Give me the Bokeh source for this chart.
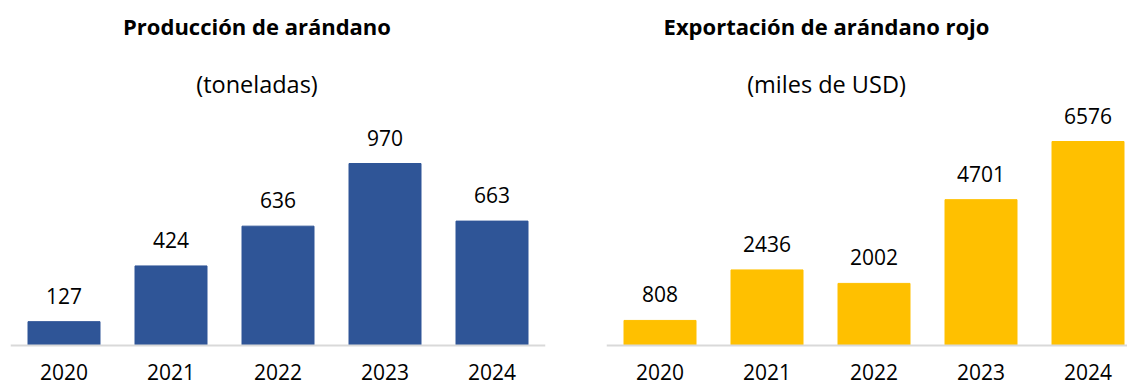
from bokeh.plotting import figure
from bokeh.models import ColumnDataSource, Range1d, FixedTicker, LabelSet, LinearAxis
from bokeh.layouts import row
from bokeh.embed import file_html
from bokeh.resources import INLINE
from bokeh.core.properties import value

years = ["2020", "2021", "2022", "2023", "2024"]
produccion = [127, 424, 636, 970, 663]
exportacion = [808, 2436, 2002, 4701, 6576]
titles = ["Producción de arándano", "Exportación de arándano rojo"]
subtitles = ["(toneladas)", "(miles de USD)"]
colors = ["#2F5597", "#FFC000"]

FONT = "Open Sans"
H = 386
BASE = 345          # baseline pixel from top of figure
PX_PER_CAT = 107.0


def panel(vals, color, title, subtitle, width, border_left, border_right,
          px_per_unit, title_x):
    idx = list(range(len(years)))
    frame_w = width - border_left - border_right
    x_end = -0.5 + frame_w / PX_PER_CAT
    y_start = -(H - BASE) / px_per_unit
    y_end = BASE / px_per_unit
    p = figure(width=width, height=H, x_range=Range1d(-0.5, x_end),
               y_range=Range1d(y_start, y_end), output_backend="svg",
               toolbar_location=None, x_axis_type=None, y_axis_type=None,
               min_border=0, min_border_left=border_left,
               min_border_right=border_right,
               min_border_top=0, min_border_bottom=0)
    p.outline_line_color = None
    p.grid.visible = False
    p.background_fill_color = "white"
    p.border_fill_color = "white"

    src = ColumnDataSource(dict(x=idx, top=vals, lab=[str(v) for v in vals]))
    p.vbar(x="x", top="top", bottom=0, width=72 / PX_PER_CAT, source=src,
           fill_color=color, line_color=color, line_width=1)

    ax = LinearAxis(fixed_location=0, ticker=FixedTicker(ticks=idx),
                    major_label_overrides={i: y for i, y in enumerate(years)})
    ax.axis_line_color = "#d9d9d9"
    ax.axis_line_width = 2
    ax.major_tick_line_color = None
    ax.minor_tick_line_color = None
    ax.major_label_standoff = 12
    ax.major_label_text_font = FONT
    ax.major_label_text_font_size = "21px"
    ax.major_label_text_color = "black"
    p.add_layout(ax, "below")

    labels = LabelSet(x="x", y="top", text="lab", source=src, y_offset=18,
                      text_align="center", text_baseline="alphabetic",
                      text_font=value(FONT), text_font_size="21px",
                      text_color="black")
    p.add_layout(labels)

    p.text(x=[title_x], y=[(BASE - 25) / px_per_unit], text=[title],
           text_font=value(FONT), text_font_style="bold", text_font_size="22px",
           text_align="center", text_baseline="alphabetic", text_color="black")
    p.text(x=[title_x], y=[(BASE - 83) / px_per_unit], text=[subtitle],
           text_font=value(FONT), text_font_size="23.5px",
           text_align="center", text_baseline="alphabetic", text_color="black")
    return p


p1 = panel(produccion, colors[0], titles[0], subtitles[0], 563, 10, 18,
           182.0 / 970, (256.5 - 63.5) / PX_PER_CAT)
p2 = panel(exportacion, colors[1], titles[1], subtitles[1], 564, 43, 0,
           204.0 / 6576, (826 - 659.5) / PX_PER_CAT)

layout = row(p1, p2)
open("out.html", "w").write(file_html(layout, INLINE))
